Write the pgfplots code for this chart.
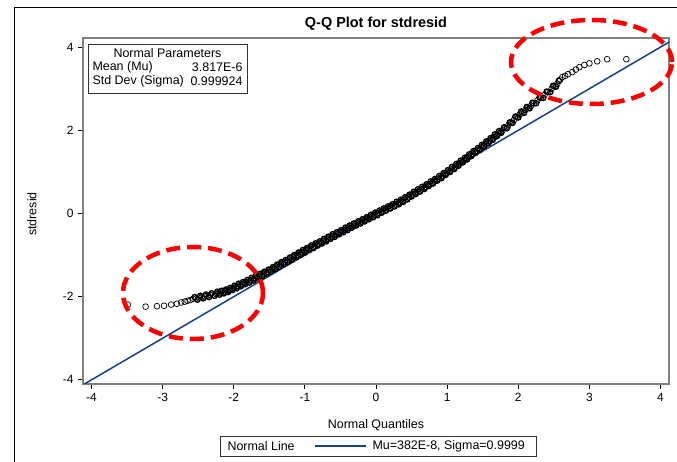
\documentclass[border=0pt]{standalone}
\usepackage{fontspec}
\setmainfont{Liberation Sans}
\usepackage{pgfplots}
\usepackage{pgfplotstable}
\pgfplotsset{compat=1.18}
\definecolor{navy}{RGB}{22,64,138}
\definecolor{axgray}{RGB}{128,128,128}
\pgfplotstableread{
x y
-3.49 -2.19
-3.24 -2.24
-3.08 -2.23
-2.98 -2.22
-2.88 -2.19
-2.80 -2.17
-2.74 -2.14
-2.69 -2.12
-2.65 -2.10
-2.61 -2.08
-2.57 -2.05
-2.53 -2.04
-2.49 -2.02
-2.45 -2.01
-2.41 -1.99
-2.37 -1.98
-2.33 -1.96
-2.29 -1.95
-2.25 -1.93
-2.21 -1.91
-2.18 -1.90
-2.15 -1.89
-2.12 -1.87
-2.09 -1.86
-2.06 -1.84
-2.03 -1.81
-2.00 -1.79
-1.97 -1.77
-1.94 -1.74
-1.91 -1.72
-1.88 -1.70
-1.85 -1.67
-1.82 -1.65
-1.79 -1.63
-1.76 -1.60
-1.73 -1.58
-1.70 -1.55
-1.67 -1.53
-1.64 -1.50
-1.61 -1.48
-1.58 -1.45
-1.55 -1.42
-1.52 -1.40
-1.49 -1.37
-1.46 -1.34
-1.43 -1.31
-1.40 -1.28
-1.37 -1.25
-1.34 -1.22
-1.31 -1.19
-1.28 -1.17
-1.25 -1.14
-1.22 -1.11
-1.19 -1.08
-1.16 -1.05
-1.13 -1.02
-1.10 -0.99
-1.07 -0.96
-1.04 -0.93
-1.01 -0.91
-0.98 -0.88
-0.95 -0.85
-0.92 -0.82
-0.89 -0.80
-0.86 -0.77
-0.83 -0.74
-0.80 -0.72
-0.77 -0.69
-0.74 -0.66
-0.71 -0.64
-0.68 -0.61
-0.65 -0.58
-0.62 -0.55
-0.59 -0.53
-0.56 -0.50
-0.53 -0.47
-0.50 -0.45
-0.47 -0.42
-0.44 -0.39
-0.41 -0.37
-0.38 -0.34
-0.35 -0.31
-0.32 -0.29
-0.29 -0.26
-0.26 -0.24
-0.23 -0.21
-0.20 -0.19
-0.17 -0.16
-0.14 -0.14
-0.11 -0.11
-0.08 -0.08
-0.05 -0.06
-0.02 -0.03
0.01 -0.01
0.04 0.02
0.07 0.04
0.10 0.07
0.13 0.09
0.16 0.12
0.19 0.14
0.22 0.17
0.25 0.19
0.28 0.22
0.31 0.25
0.34 0.27
0.37 0.30
0.40 0.33
0.43 0.36
0.46 0.39
0.49 0.43
0.52 0.46
0.55 0.49
0.58 0.52
0.61 0.55
0.64 0.58
0.67 0.61
0.70 0.64
0.73 0.68
0.76 0.71
0.79 0.74
0.82 0.77
0.85 0.81
0.88 0.84
0.91 0.87
0.94 0.91
0.97 0.95
1.00 0.98
1.03 1.02
1.06 1.06
1.09 1.09
1.12 1.13
1.15 1.17
1.18 1.21
1.21 1.25
1.24 1.28
1.27 1.32
1.30 1.36
1.33 1.40
1.36 1.44
1.39 1.48
1.42 1.51
1.45 1.55
1.48 1.59
1.51 1.63
1.54 1.67
1.57 1.71
1.60 1.75
1.63 1.79
1.66 1.83
1.69 1.88
1.72 1.92
1.75 1.96
1.78 2.00
1.82 2.06
1.86 2.12
1.90 2.18
1.94 2.25
1.98 2.32
2.02 2.38
2.06 2.43
2.10 2.49
2.14 2.54
2.18 2.59
2.22 2.65
2.27 2.72
2.32 2.78
2.37 2.85
2.42 2.92
2.47 3.00
2.51 3.06
2.55 3.12
2.59 3.22
2.62 3.28
2.66 3.31
2.70 3.35
2.76 3.40
2.81 3.46
2.86 3.52
2.93 3.57
3.00 3.61
3.11 3.66
3.25 3.71
3.52 3.71
}\qqdata
\pgfplotstableread{
x y
-2.55 -2.01
-2.51 -2.07
-2.47 -1.98
-2.43 -2.04
-2.39 -1.95
-2.35 -2.01
-2.31 -1.92
-2.27 -1.98
-2.23 -1.88
-2.20 -1.95
-2.17 -1.86
-2.14 -1.92
-2.11 -1.83
-2.08 -1.89
-2.05 -1.79
-2.02 -1.84
-1.99 -1.74
-1.96 -1.80
-1.93 -1.69
-1.90 -1.75
-1.87 -1.65
-1.84 -1.70
-1.81 -1.60
-1.78 -1.66
-1.75 -1.55
-1.72 -1.61
-1.69 -1.50
-1.66 -1.56
-1.63 -1.45
-1.60 -1.51
-1.57 -1.40
-1.54 -1.45
-1.51 -1.35
-1.48 -1.40
-1.45 -1.29
-1.42 -1.34
-1.39 -1.23
-1.36 -1.28
-1.33 -1.17
-1.30 -1.22
-1.27 -1.12
-1.24 -1.17
-1.21 -1.06
-1.18 -1.11
-1.15 -1.00
-1.12 -1.05
-1.09 -0.94
-1.06 -0.99
-1.03 -0.88
-1.00 -0.94
-0.97 -0.83
-0.94 -0.88
-0.91 -0.77
-0.88 -0.83
-0.85 -0.72
-0.82 -0.77
-0.79 -0.67
-0.76 -0.72
-0.73 -0.61
-0.70 -0.67
-0.67 -0.56
-0.64 -0.61
-0.61 -0.50
-0.58 -0.56
-0.55 -0.45
-0.52 -0.50
-0.49 -0.40
-0.46 -0.45
-0.43 -0.34
-0.40 -0.40
-0.37 -0.29
-0.34 -0.34
-0.31 -0.24
-0.28 -0.29
-0.25 -0.19
-0.22 -0.24
-0.19 -0.14
-0.16 -0.19
-0.13 -0.09
-0.10 -0.14
-0.07 -0.03
-0.04 -0.09
-0.01 0.02
0.02 -0.04
0.05 0.07
0.08 0.02
0.11 0.12
0.14 0.07
0.17 0.17
0.20 0.12
0.23 0.22
0.26 0.17
0.29 0.28
0.32 0.22
0.35 0.33
0.38 0.28
0.41 0.39
0.44 0.34
0.47 0.45
0.50 0.41
0.53 0.52
0.56 0.47
0.59 0.58
0.62 0.53
0.65 0.64
0.68 0.59
0.71 0.70
0.74 0.66
0.77 0.77
0.80 0.72
0.83 0.83
0.86 0.79
0.89 0.90
0.92 0.85
0.95 0.97
0.98 0.93
1.01 1.04
1.04 1.00
1.07 1.12
1.10 1.07
1.13 1.19
1.16 1.15
1.19 1.27
1.22 1.23
1.25 1.34
1.28 1.30
1.31 1.42
1.34 1.38
1.37 1.50
1.40 1.46
1.43 1.57
1.46 1.53
1.49 1.65
1.52 1.61
1.55 1.73
1.58 1.69
1.61 1.81
1.64 1.77
1.67 1.90
1.70 1.86
1.73 1.98
1.76 1.94
1.80 2.07
1.84 2.05
1.88 2.19
1.92 2.18
1.96 2.33
2.00 2.31
2.04 2.45
2.08 2.42
2.12 2.56
2.16 2.53
2.20 2.66
2.25 2.65
2.30 2.79
2.35 2.78
2.40 2.93
2.45 2.92
2.49 3.07
2.53 3.05
2.57 3.19
}\qqdatab
\begin{document}
\begin{tikzpicture}[x=1bp,y=1bp]
\useasboundingbox (0,0) rectangle (677,462);
\draw[black, line width=1bp] (14,-2) -- (14,454) -- (679,454);
\begin{axis}[
  at={(83bp,78bp)}, anchor=south west,
  width=586bp, height=346bp, scale only axis,
  xmin=-4.12, xmax=4.12, ymin=-4.1, ymax=4.22,
  xtick={-4,-3,-2,-1,0,1,2,3,4},
  ytick={-4,-2,0,2,4},
  xtick pos=left, ytick pos=left,
  tick align=outside,
  major tick length=5bp,
  tick style={black, line width=0.8bp},
  axis line style={axgray, line width=1.5bp},
  /pgf/number format/assume math mode=true,
  ticklabel style={font=\fontsize{12}{14}\selectfont},
  xticklabel style={yshift=-1bp},
  yticklabel style={xshift=-1bp},
  clip=true,
]
\addplot[navy, line width=1.5bp] coordinates {(-4.3,-4.3) (4.3,4.3)};
\addplot[only marks, mark=o, mark size=2.9bp, black, line width=0.7bp] table[x=x,y=y] {\qqdata};
\addplot[only marks, mark=o, mark size=2.7bp, black, line width=1.3bp] table[x=x,y=y] {\qqdatab};
\end{axis}
% title and labels
\node[font=\fontsize{14.5}{17}\selectfont\bfseries] at (376,438) {Q-Q Plot for stdresid};
\node[font=\fontsize{12.5}{15}\selectfont, rotate=90] at (32,248) {stdresid};
\node[font=\fontsize{12.5}{15}\selectfont] at (376,37) {Normal Quantiles};
% legend
\draw[black!80, line width=0.8bp] (220,6) rectangle (536,26);
\node[font=\fontsize{12.5}{15}\selectfont, anchor=west] at (224,16) {Normal Line};
\draw[navy, line width=2bp] (315,16) -- (366,16);
\node[font=\fontsize{12.5}{15}\selectfont, anchor=west] at (369,16) {Mu=382E-8, Sigma=0.9999};
% parameters box
\draw[black!80, line width=0.8bp, fill=white] (88,369) rectangle (247,418);
\node[font=\fontsize{12.5}{15}\selectfont] at (167.5,409) {Normal Parameters};
\node[font=\fontsize{12.5}{15}\selectfont, anchor=west] at (89,395) {Mean (Mu)};
\node[font=\fontsize{12.5}{15}\selectfont, anchor=east] at (246,395) {3.817E-6};
\node[font=\fontsize{12.5}{15}\selectfont, anchor=west] at (89,381) {Std Dev (Sigma)};
\node[font=\fontsize{12.5}{15}\selectfont, anchor=east] at (246,381) {0.999924};
% red annotation ellipses
\draw[red, line width=4.5bp, dash pattern=on 14bp off 7bp] (193,169) ellipse [x radius=70, y radius=46];
\draw[red, line width=4.5bp, dash pattern=on 14bp off 7bp] (591.5,400) ellipse [x radius=80.5, y radius=42];
\end{tikzpicture}
\end{document}
